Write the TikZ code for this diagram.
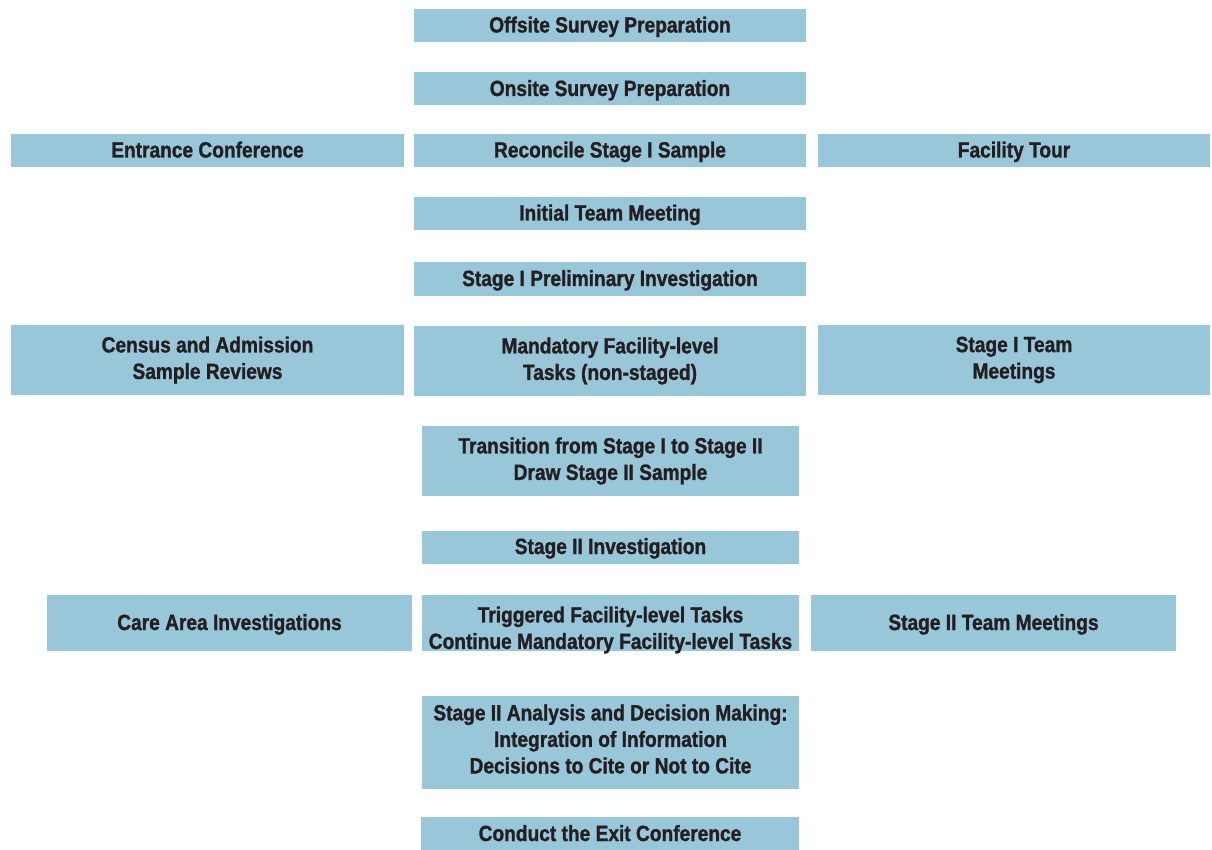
\documentclass[tikz,border=0pt]{standalone}
\usepackage{fontspec}
\setmainfont{Liberation Sans}[FakeStretch=0.87, BoldFeatures={FakeBold=1.2}]
\usepackage{xcolor}
\definecolor{boxblue}{RGB}{153,199,218}
\definecolor{inkgray}{RGB}{35,31,32}

\tikzset{
   boxtext/.style = {text=inkgray, inner sep=0pt, align=center,
                     font=\fontsize{22}{26.5}\selectfont\bfseries},
   stepbox/.style = {boxtext, fill=boxblue},
   onebox/.style  = {stepbox, text height=18pt, text depth=4pt},
}

\begin{document}
\begin{tikzpicture}[x=1pt,y=-1pt]
   \useasboundingbox (0,0) rectangle (1212,850);
   % middle column
   \node[onebox, minimum width=392pt, minimum height=33pt] (offsite) at (610,25.5) {Offsite Survey Preparation};
   \node[onebox, minimum width=392pt, minimum height=33pt] (onsite)  at (610,89)   {Onsite Survey Preparation};
   \node[onebox, minimum width=392pt, minimum height=33pt] (recon)   at (610,150.5) {Reconcile Stage I Sample};
   \node[onebox, minimum width=392pt, minimum height=33pt] (initial) at (610,213.5) {Initial Team Meeting};
   \node[onebox, minimum width=392pt, minimum height=34pt] (prelim)  at (610,279)  {Stage I Preliminary Investigation};
   \node[stepbox, minimum width=392pt, minimum height=70pt] (mand)   at (610,361)  {Mandatory Facility-level\\Tasks (non-staged)};
   \node[stepbox, minimum width=377pt, minimum height=70pt] (trans)  at (610.5,461) {Transition from Stage I to Stage II\\Draw Stage II Sample};
   \node[onebox, minimum width=377pt, minimum height=33pt] (invII)   at (610.5,547) {Stage II Investigation};
   \node[stepbox, minimum width=377pt, minimum height=56pt,
         label={[boxtext, name=trigtext, yshift=-7pt]center:Triggered Facility-level Tasks\\Continue Mandatory Facility-level Tasks}] (trig) at (610.5,623) {};
   \node[stepbox, minimum width=377pt, minimum height=93pt,
         label={[boxtext, name=analysistext, yshift=3pt]center:Stage II Analysis and Decision Making:\\Integration of Information\\Decisions to Cite or Not to Cite}] (analysis) at (610.5,742) {};
   \node[onebox, minimum width=378pt, minimum height=34pt] (exit)    at (610,834)  {Conduct the Exit Conference};
   % left column
   \node[onebox, minimum width=393pt, minimum height=33pt] (entrance) at (207.5,150.5) {Entrance Conference};
   \node[stepbox, minimum width=393pt, minimum height=70pt] (census)  at (207.5,360)   {Census and Admission\\Sample Reviews};
   \node[onebox, minimum width=365pt, minimum height=56pt] (care)     at (229.5,623)   {Care Area Investigations};
   % right column
   \node[onebox, minimum width=392pt, minimum height=33pt] (tour)    at (1014,150.5) {Facility Tour};
   \node[stepbox, minimum width=392pt, minimum height=70pt] (teamI)  at (1014,360)   {Stage I Team\\Meetings};
   \node[onebox, minimum width=365pt, minimum height=56pt] (teamII)  at (993.5,623)  {Stage II Team Meetings};
\end{tikzpicture}
\end{document}
